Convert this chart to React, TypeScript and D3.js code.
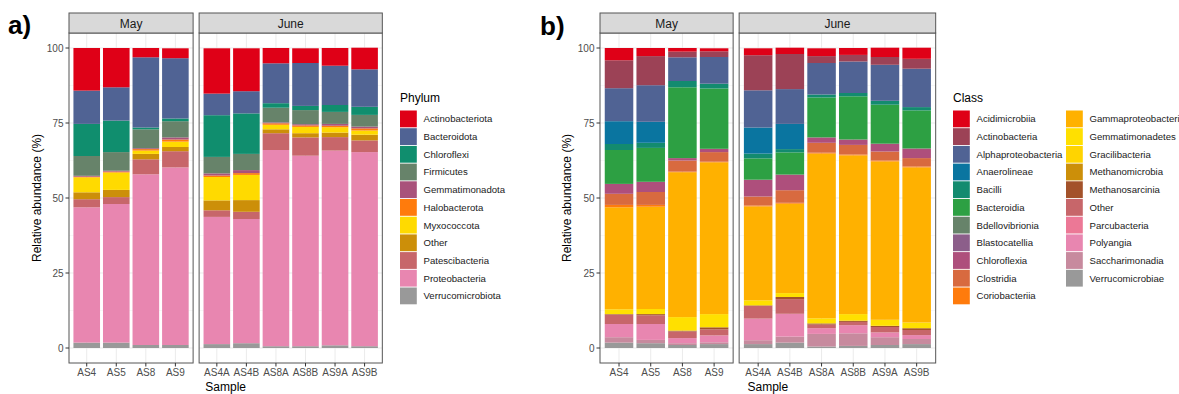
import { useEffect, useRef } from 'react';
import * as d3 from 'd3';

// facets and samples
const months = ['May', 'June'];
const maySamples = ['AS4', 'AS5', 'AS8', 'AS9'];
const juneSamples = ['AS4A', 'AS4B', 'AS8A', 'AS8B', 'AS9A', 'AS9B'];
const yTicks = [0, 25, 50, 75, 100];

// panel a) phylum, legend order (top of stack first)
const phyla = [
  'Actinobacteriota', 'Bacteroidota', 'Chloroflexi', 'Firmicutes', 'Gemmatimonadota',
  'Halobacterota', 'Myxococcota', 'Other', 'Patescibacteria', 'Proteobacteria', 'Verrucomicrobiota'
];
const phylumColors = [
  '#DF0017', '#506394', '#108E6E', '#67836A', '#A9527B',
  '#FF7B0C', '#FFDA00', '#CC8F09', '#C7666A', '#E886B0', '#999999'
];
// one row per phylum; columns AS4 AS5 AS8 AS9 | AS4A AS4B AS8A AS8B AS9A AS9B
const phylumValues = [
  [14.2, 13.1, 3.1, 3.3, 15.1, 14.3, 5.1, 4.9, 5.9, 7.2],
  [11.1, 11.1, 23.4, 20.1, 7.2, 7.4, 13.3, 14.3, 13.1, 12.5],
  [10.7, 10.5, 0.6, 0.9, 13.9, 13.5, 1.5, 1.4, 2.3, 2.7],
  [6.6, 6.2, 6.3, 5.4, 5.5, 5.4, 4.9, 4.7, 4.0, 3.9],
  [0.3, 0.3, 0.3, 0.7, 0.7, 1.0, 0.3, 0.4, 0.6, 0.6],
  [0.2, 0.3, 0.5, 0.7, 0.5, 0.6, 0.5, 0.5, 0.5, 0.7],
  [5.0, 5.8, 1.1, 1.8, 7.8, 8.4, 1.5, 2.1, 1.8, 1.4],
  [2.3, 2.4, 1.8, 1.4, 3.3, 3.9, 1.3, 1.4, 1.5, 1.9],
  [2.7, 2.3, 5.0, 5.4, 2.2, 2.4, 5.6, 6.1, 4.5, 3.9],
  [45.1, 46.2, 56.9, 59.2, 42.4, 41.4, 65.4, 63.5, 64.9, 64.7],
  [1.8, 1.8, 1.0, 1.0, 1.3, 1.6, 0.6, 0.6, 0.9, 0.6]
];

// panel b) class
const classes = [
  'Acidimicrobiia', 'Actinobacteria', 'Alphaproteobacteria', 'Anaerolineae', 'Bacilli',
  'Bacteroidia', 'Bdellovibrionia', 'Blastocatellia', 'Chloroflexia', 'Clostridia',
  'Coriobacteriia', 'Gammaproteobacteria', 'Gemmatimonadetes', 'Gracilibacteria',
  'Methanomicrobia', 'Methanosarcinia', 'Other', 'Parcubacteria', 'Polyangia',
  'Saccharimonadia', 'Verrucomicrobiae'
];
const classColors = [
  '#DF0017', '#9C4256', '#506394', '#0A75A0', '#138B6F',
  '#2DA043', '#67836A', '#8C5E8A', '#AE4F7C', '#D86A3F',
  '#FF7B0C', '#FFB100', '#FFE000', '#FFD400',
  '#CC8F09', '#A3522A', '#C7666A', '#EC7896', '#E886B0',
  '#C78A9E', '#999999'
];
const classValues = [
  [4.1, 2.7, 1.2, 1.0, 2.3, 2.1, 2.6, 2.3, 3.1, 3.7],
  [9.3, 9.7, 1.9, 1.9, 11.7, 11.7, 2.3, 2.2, 2.6, 3.3],
  [11.0, 12.2, 7.9, 8.9, 12.4, 11.6, 10.5, 10.5, 12.0, 12.8],
  [7.6, 7.0, 0, 0, 8.7, 8.4, 0, 0, 0, 0],
  [2.0, 1.7, 2.1, 1.6, 1.6, 1.1, 1.0, 1.1, 1.3, 1.1],
  [11.3, 11.3, 23.6, 20.1, 7.1, 7.4, 13.3, 14.4, 13.0, 12.7],
  [0, 0, 0, 0, 0, 0, 0, 0, 0, 0],
  [0, 0, 0, 0, 0, 0, 0, 0, 0, 0],
  [3.3, 3.4, 0.8, 1.1, 5.6, 5.2, 1.8, 1.8, 2.6, 3.2],
  [3.7, 4.3, 3.7, 3.2, 3.0, 4.2, 3.3, 3.2, 3.0, 2.8],
  [0.8, 0.6, 0.2, 0.2, 0.3, 0.3, 0.3, 0.3, 0.3, 0.3],
  [34.0, 34.1, 48.3, 50.6, 31.3, 29.8, 54.9, 52.9, 52.8, 51.7],
  [1.6, 1.7, 4.5, 4.4, 1.7, 1.3, 1.7, 2.2, 2.0, 1.9],
  [0, 0, 0, 0, 0, 0, 0, 0, 0, 0],
  [0, 0, 0, 0, 0, 0, 0, 0, 0, 0],
  [0.2, 0.4, 0.3, 0.7, 0.2, 0.7, 0.4, 0.4, 0.4, 0.6],
  [3.1, 2.9, 2.2, 2.0, 4.2, 4.9, 1.2, 1.1, 1.8, 1.7],
  [0, 0, 0, 0, 0, 0, 0, 0, 0, 0],
  [4.4, 5.3, 1.7, 2.3, 7.2, 7.6, 1.9, 2.7, 1.6, 1.3],
  [1.8, 1.1, 0.6, 0.6, 1.3, 2.0, 4.2, 4.2, 2.6, 1.7],
  [1.8, 1.6, 1.0, 1.3, 1.3, 1.8, 0.5, 0.7, 1.0, 1.3]
];

const FONT = '"Liberation Sans", Arial, Helvetica, sans-serif';
const W = 1179, H = 394;
const STRIP_TOP = 13, STRIP_H = 20, PANEL_BOTTOM = 363;

type Spec = {
  tag: string; tagX: number; tagY: number; titleX: number;
  left: number; unit: number;
  names: string[]; colors: string[]; values: number[][];
  legendTitle: string; legendX: number; legendRows: number; legendColW: number;
};

function drawChart(svg: d3.Selection<SVGSVGElement, unknown, null, undefined>, s: Spec) {
  const y = d3.scaleLinear().domain([-5, 105]).range([PANEL_BOTTOM, STRIP_TOP + STRIP_H]);
  const g = svg.append('g');
  const gap = 6;

  // stacked rows per sample (bottom of stack = last legend entry)
  const keys = s.names.map((_, i) => i).reverse();
  const allSamples = [...maySamples, ...juneSamples];
  const rows = allSamples.map((_, si) => {
    const r: Record<string, number> = {};
    s.names.forEach((_, ti) => { r[ti] = s.values[ti][si]; });
    return r;
  });
  const series = d3.stack<Record<string, number>>().keys(keys.map(String))(rows);

  let x0 = s.left;
  let offset = 0;
  let totalRight = x0;
  months.forEach((m, mi) => {
    const ss = mi === 0 ? maySamples : juneSamples;
    const pw = (ss.length + 0.2) * s.unit;
    const x = d3.scaleLinear().domain([0.4, ss.length + 0.6]).range([x0, x0 + pw]);
    const top = STRIP_TOP + STRIP_H;

    // grid
    const grid = g.append('g');
    [12.5, 37.5, 62.5, 87.5].forEach(v => {
      grid.append('line').attr('x1', x0).attr('x2', x0 + pw).attr('y1', y(v)).attr('y2', y(v))
        .attr('stroke', '#F2F2F2').attr('stroke-width', 0.6);
    });
    yTicks.forEach(v => {
      grid.append('line').attr('x1', x0).attr('x2', x0 + pw).attr('y1', y(v)).attr('y2', y(v))
        .attr('stroke', '#EBEBEB').attr('stroke-width', 1);
    });
    ss.forEach((_, i) => {
      grid.append('line').attr('x1', x(i + 1)).attr('x2', x(i + 1)).attr('y1', top).attr('y2', PANEL_BOTTOM)
        .attr('stroke', '#EBEBEB').attr('stroke-width', 1);
    });

    // bars
    const bw = 0.9 * s.unit;
    series.forEach(ser => {
      const ti = +ser.key;
      ss.forEach((_, i) => {
        const d = ser[offset + i];
        if (d[1] - d[0] <= 0) return;
        g.append('rect')
          .attr('x', x(i + 1) - bw / 2).attr('width', bw)
          .attr('y', y(d[1])).attr('height', y(d[0]) - y(d[1]))
          .attr('fill', s.colors[ti]);
      });
    });

    // panel border
    g.append('rect').attr('x', x0).attr('y', top).attr('width', pw).attr('height', PANEL_BOTTOM - top)
      .attr('fill', 'none').attr('stroke', '#555').attr('stroke-width', 1);

    // strip
    g.append('rect').attr('x', x0).attr('y', STRIP_TOP).attr('width', pw).attr('height', STRIP_H)
      .attr('fill', '#D9D9D9').attr('stroke', '#555').attr('stroke-width', 1);
    g.append('text').attr('x', x0 + pw / 2).attr('y', STRIP_TOP + 14.5)
      .attr('text-anchor', 'middle').attr('font-size', 12).attr('fill', '#1A1A1A')
      .attr('font-family', FONT).text(m);

    // x ticks
    ss.forEach((name, i) => {
      g.append('line').attr('x1', x(i + 1)).attr('x2', x(i + 1))
        .attr('y1', PANEL_BOTTOM).attr('y2', PANEL_BOTTOM + 3.5).attr('stroke', '#333');
      g.append('text').attr('x', x(i + 1)).attr('y', PANEL_BOTTOM + 13)
        .attr('text-anchor', 'middle').attr('font-size', 10).attr('fill', '#4D4D4D')
        .attr('font-family', FONT).text(name);
    });

    totalRight = x0 + pw;
    x0 += pw + gap;
    offset += ss.length;
  });

  // y axis
  yTicks.forEach(v => {
    g.append('line').attr('x1', s.left - 3.5).attr('x2', s.left).attr('y1', y(v)).attr('y2', y(v))
      .attr('stroke', '#333');
    g.append('text').attr('x', s.left - 5.5).attr('y', y(v) + 3.5)
      .attr('text-anchor', 'end').attr('font-size', 10).attr('fill', '#4D4D4D')
      .attr('font-family', FONT).text(v);
  });
  const midY = (STRIP_TOP + STRIP_H + PANEL_BOTTOM) / 2;
  g.append('text').attr('transform', `translate(${s.titleX},${midY}) rotate(-90)`)
    .attr('text-anchor', 'middle').attr('font-size', 12).attr('fill', '#000')
    .attr('font-family', FONT).text('Relative abundance (%)');
  g.append('text').attr('x', (s.left + totalRight) / 2).attr('y', 391)
    .attr('text-anchor', 'middle').attr('font-size', 12).attr('fill', '#000')
    .attr('font-family', FONT).text('Sample');

  // tag
  g.append('text').attr('x', s.tagX).attr('y', s.tagY)
    .attr('font-size', 26).attr('font-weight', 'bold').attr('fill', '#000')
    .attr('font-family', FONT).text(s.tag);

  // legend
  const lg = g.append('g');
  lg.append('text').attr('x', s.legendX).attr('y', 102)
    .attr('font-size', 12).attr('fill', '#000').attr('font-family', FONT).text(s.legendTitle);
  s.names.forEach((name, i) => {
    const col = Math.floor(i / s.legendRows);
    const row = i % s.legendRows;
    const lx = s.legendX + col * s.legendColW;
    const ly = 110.5 + row * 17.7;
    lg.append('rect').attr('x', lx).attr('y', ly).attr('width', 16.8).attr('height', 16.8)
      .attr('fill', s.colors[i]);
    lg.append('text').attr('x', lx + 23.5).attr('y', ly + 11.8)
      .attr('font-size', 9.6).attr('fill', '#1A1A1A').attr('font-family', FONT).text(name);
  });
}

const App = () => {
  const svgRef = useRef<SVGSVGElement>(null);

  useEffect(() => {
    const svg = d3.select(svgRef.current as SVGSVGElement);
    svg.selectAll('*').remove();
    svg.append('rect').attr('width', W).attr('height', H).attr('fill', '#fff');

    drawChart(svg, {
      tag: 'a)', tagX: 8, tagY: 33.5, titleX: 41,
      left: 69, unit: 29.55,
      names: phyla, colors: phylumColors, values: phylumValues,
      legendTitle: 'Phylum', legendX: 400, legendRows: 11, legendColW: 0
    });
    drawChart(svg, {
      tag: 'b)', tagX: 540, tagY: 34.5, titleX: 571,
      left: 600, unit: 31.7,
      names: classes, colors: classColors, values: classValues,
      legendTitle: 'Class', legendX: 953, legendRows: 11, legendColW: 113
    });
  }, []);

  return (
    <div style={{ position: 'absolute', left: 0, top: 0 }}>
      <svg ref={svgRef} width={W} height={H} style={{ display: 'block' }} />
    </div>
  );
};

export default App;
